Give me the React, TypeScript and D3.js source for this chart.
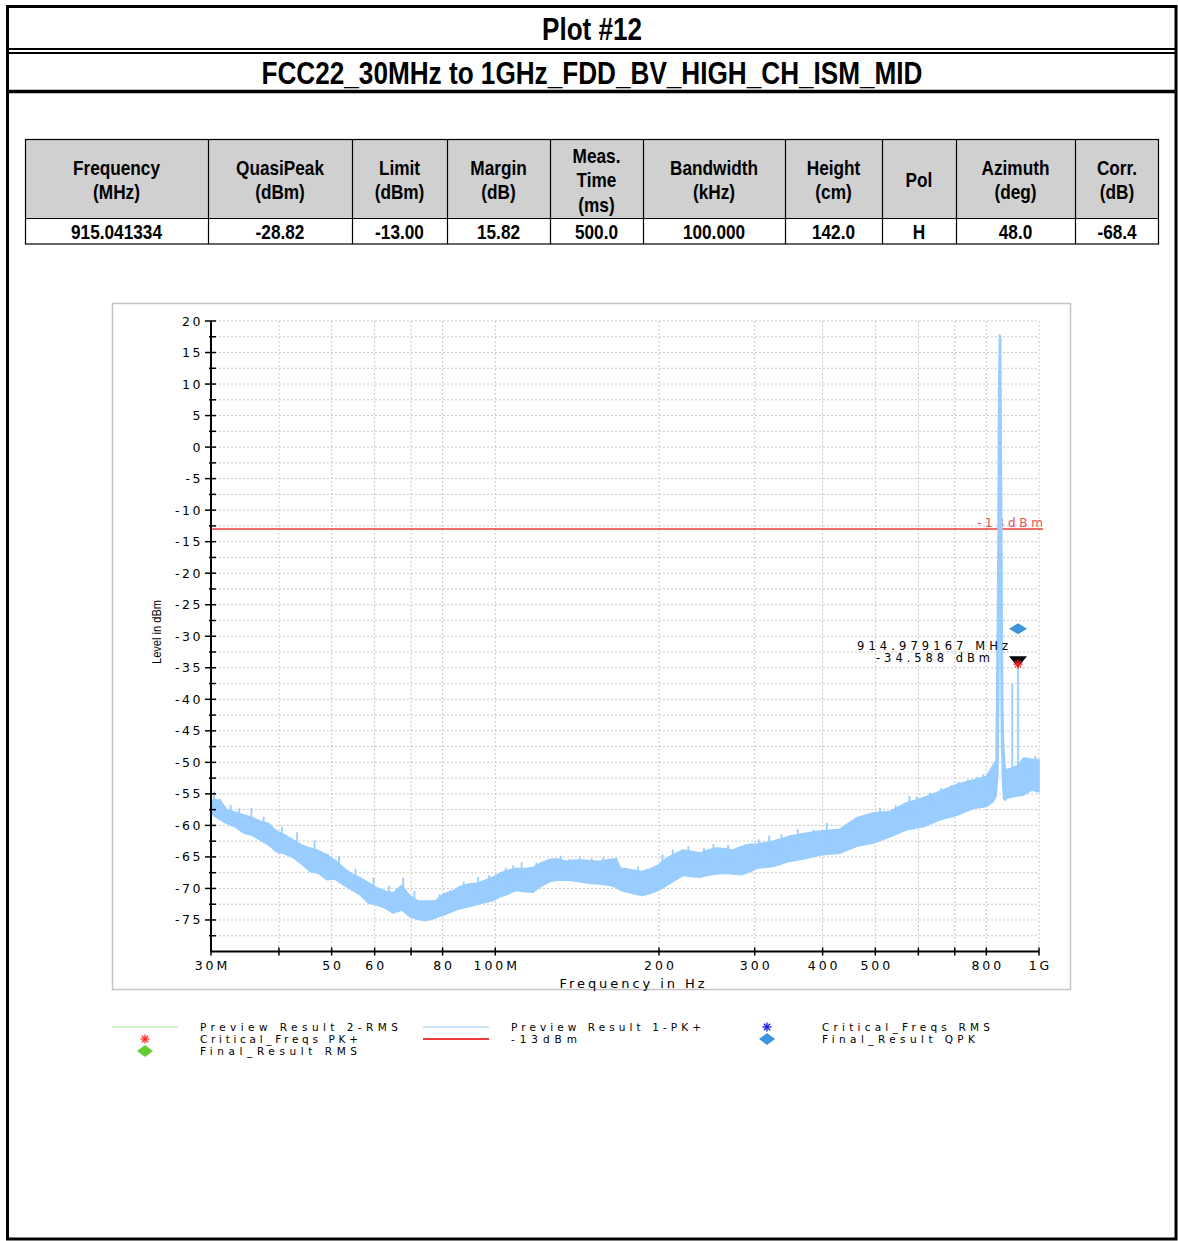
import React from "react";
import * as d3 from "d3";

// ---------- data ----------
const plotTitle = "Plot #12";
const plotSubtitle = "FCC22_30MHz to 1GHz_FDD_BV_HIGH_CH_ISM_MID";

const tableHeaders: string[][] = [
  ["Frequency", "(MHz)"],
  ["QuasiPeak", "(dBm)"],
  ["Limit", "(dBm)"],
  ["Margin", "(dB)"],
  ["Meas.", "Time", "(ms)"],
  ["Bandwidth", "(kHz)"],
  ["Height", "(cm)"],
  ["Pol"],
  ["Azimuth", "(deg)"],
  ["Corr.", "(dB)"],
];
const tableValues = ["915.041334", "-28.82", "-13.00", "15.82", "500.0", "100.000", "142.0", "H", "48.0", "-68.4"];

// Preview Result 1-PK+ trace envelope (max / min of the noisy sweep)
const traceFreqMHz = [
  30.0, 30.4, 31.2, 32.1, 33.2, 34.4, 35.6, 36.9, 38.3, 39.6, 41.0, 42.5, 44.0, 45.6, 47.3, 49.0,
  50.7, 52.5, 54.4, 56.4, 58.4, 60.5, 62.7, 64.9, 67.3, 69.7, 72.2, 74.8, 77.5, 80.3, 83.1, 86.1,
  89.2, 92.5, 95.8, 99.2, 102, 105.5, 109.5, 113, 117.3, 121, 126, 130, 135.3, 140, 145, 150,
  155.8, 162, 167, 170, 175, 179, 186, 192.6, 199.5, 206.7, 214, 221.7, 229, 237.9, 246, 255,
  264, 274, 284, 294, 302.6, 324, 348, 374, 396, 430, 462, 496, 532, 571, 613, 658, 706, 757,
  801, 824, 834, 840, 843, 846, 850, 853, 857, 861, 866, 872, 891, 915, 936, 970, 1000,
];
const traceMaxDbm = [
  -56.2, -55.8, -56.1, -57.5, -57.9, -58.3, -58.7, -59.3, -59.7, -60.9, -61.5, -62.3, -63.1, -63.6, -64.0, -64.7,
  -65.5, -66.7, -67.7, -68.3, -69.1, -69.9, -70.4, -70.7, -69.5, -71.2, -72.0, -72.0, -72.0, -70.9, -70.5, -69.7,
  -69.3, -69.2, -68.7, -68.2, -67.6, -67.1, -66.8, -66.9, -66.7, -66.0, -65.4, -65.3, -65.7, -65.5, -65.5, -65.6,
  -65.7, -65.4, -65.3, -66.8, -66.9, -67.1, -67.3, -66.9, -66.3, -65.2, -64.5, -63.9, -64.1, -64.4, -63.9, -63.6,
  -63.7, -63.9, -63.3, -63.0, -63.0, -62.5, -61.7, -61.2, -60.9, -60.6, -58.8, -58.0, -57.8, -56.4, -55.6, -54.6, -53.5, -52.8,
  -52.2, -50.4, -49.7, -20.0, 10.0, 17.8, 17.5, -5.0, -40.0, -47.7, -50.7, -51.2, -50.9, -50.5, -49.3, -49.5, -49.6,
];
const traceMinDbm = [
  -58.0, -58.5, -59.1, -59.7, -60.2, -61.2, -61.5, -62.3, -63.1, -64.2, -64.5, -65.1, -66.1, -67.3, -67.6, -68.6,
  -68.5, -69.4, -70.2, -71.0, -72.3, -72.6, -73.1, -73.9, -73.4, -74.5, -74.9, -75.1, -74.7, -74.2, -73.7, -73.2,
  -72.9, -72.6, -72.2, -71.9, -71.3, -70.9, -70.3, -70.5, -70.6, -69.7, -68.9, -68.7, -68.7, -68.8, -69.0, -69.2,
  -69.3, -69.5, -69.8, -70.3, -70.6, -70.8, -71.1, -70.8, -70.3, -69.5, -68.7, -67.9, -68.1, -68.2, -67.9, -67.7,
  -67.6, -67.7, -67.8, -67.3, -66.8, -66.5, -65.7, -65.2, -64.7, -64.4, -63.3, -62.8, -61.8, -60.7, -60.2, -59.1, -58.4, -57.3,
  -57.0, -56.2, -55.3, -52.0, -40.0, -20.0, -25.0, -45.0, -53.0, -55.8, -56.0, -55.7, -55.5, -55.3, -55.2, -54.4, -54.7,
];

// narrow spikes rising above the envelope
const spikeFreqMHz = [
  30.4, 31.2, 32.6, 33.8, 35.6, 37.5, 38.3, 40.5, 43.2, 46.5, 49.2, 51.6, 55.3, 59.7, 63.8, 67.7, 71.0, 79.0, 82.0, 82.6, 87.5,
  93.0, 97.4, 101.3, 104.5, 107.9, 111.8, 119, 127, 132, 137, 143, 150.4, 158, 167, 183, 203, 212, 226.5, 242, 251.8, 268,
  290, 305, 319, 336, 360, 385, 407, 445, 482, 510, 545, 577.5, 596, 630, 660, 690, 711, 740, 768, 790, 807, 893, 915, 949, 985,
];
const spikeDbm = [
  -54.6, -55.8, -56.8, -57.3, -57.2, -58.6, -59.7, -60.2, -61.1, -62.4, -64.5, -64.9, -66.9, -68.3, -69.6, -68.3, -70.4, -70.9, -71.2, -70.3, -68.9,
  -68.2, -67.9, -67.8, -66.7, -66.3, -65.8, -65.9, -65.3, -64.8, -65.3, -64.9, -65.2, -65.0, -65.1, -66.5, -64.6, -63.8, -63.3, -63.6, -63.0, -63.1,
  -63.2, -62.2, -61.6, -61.4, -60.6, -60.7, -59.6, -59.8, -59.0, -57.2, -56.8, -55.3, -55.4, -54.8, -54.1, -53.6, -53.1, -52.7, -52.3, -51.9, -51.8, -37.5, -34.6, -49.2, -49.0,
];

const limitDbm = -13;
const limitLabel = "-13dBm";
const finalQpkFreqMHz = [915.041334];
const finalQpkDbm = [-28.82];
const criticalPkFreqMHz = [914.979167];
const criticalPkDbm = [-34.588];
const markerLines = ["914.979167 MHz", "-34.588 dBm"];

const yTickValues = [20, 15, 10, 5, 0, -5, -10, -15, -20, -25, -30, -35, -40, -45, -50, -55, -60, -65, -70, -75];
const xTickMHz = [30, 40, 50, 60, 70, 80, 100, 200, 300, 400, 500, 600, 700, 800, 1000];
const xTickLabels = ["30M", "", "50", "60", "", "80", "100M", "200", "300", "400", "500", "", "", "800", "1G"];

const legendItems = [
  { label: "Preview Result 2-RMS", kind: "line", color: "#a6e88e" },
  { label: "Critical_Freqs PK+", kind: "star", color: "#ff2222" },
  { label: "Final_Result RMS", kind: "diamond", color: "#66cc33" },
  { label: "Preview Result 1-PK+", kind: "line", color: "#9cc6f0" },
  { label: "-13dBm", kind: "thickline", color: "#ee3b3b" },
  { label: "Critical_Freqs RMS", kind: "star", color: "#1a1ae0" },
  { label: "Final_Result QPK", kind: "diamond", color: "#3d95dc" },
];

// ---------- layout ----------
const colEdges = [25, 208, 352, 447, 550, 643, 785, 882, 956, 1075, 1159];
const NARROW = "'Liberation Sans Narrow', 'Arial Narrow', 'Liberation Sans', Arial, sans-serif";
const SPACED = "'DejaVu Sans', Verdana, sans-serif";
const TRACE = "#99ccff";

function Star({ cx, cy, r, color }: { cx: number; cy: number; r: number; color: string }) {
  const lines = [0, 45, 90, 135].map((a) => {
    const t = (a * Math.PI) / 180;
    return (
      <line key={a} x1={cx - r * Math.cos(t)} y1={cy - r * Math.sin(t)} x2={cx + r * Math.cos(t)} y2={cy + r * Math.sin(t)}
        stroke={color} strokeWidth={1.3} />
    );
  });
  return <g>{lines}</g>;
}

function Diamond({ cx, cy, rx, ry, color }: { cx: number; cy: number; rx: number; ry: number; color: string }) {
  return <path d={`M${cx - rx},${cy}L${cx},${cy - ry}L${cx + rx},${cy}L${cx},${cy + ry}Z`} fill={color} />;
}

function CText({ x, y, children, size = 21, sx = 0.82 }: { x: number; y: number; children: React.ReactNode; size?: number; sx?: number }) {
  return (
    <g transform={`translate(${x},${y}) scale(${sx},1)`}>
      <text x={0} y={0} textAnchor="middle" fontFamily={NARROW} fontWeight="bold" fontSize={size}>{children}</text>
    </g>
  );
}

export default function App() {
  const x = d3.scaleLog().domain([30, 1000]).range([211, 1039]);
  const y = d3.scaleLinear().domain([-80, 20]).range([951.5, 321]);

  const env = traceFreqMHz.map((f, i) => ({ f, hi: traceMaxDbm[i], lo: traceMinDbm[i] }));
  const area = d3
    .area<{ f: number; hi: number; lo: number }>()
    .x((d) => x(d.f))
    .y0((d) => y(d.lo))
    .y1((d) => y(d.hi));

  const bis = d3.bisector((d: { f: number }) => d.f).left;
  const bandMid = (f: number) => {
    const i = Math.max(1, Math.min(env.length - 1, bis(env, f)));
    const a = env[i - 1], b = env[i];
    const t = (Math.log(f) - Math.log(a.f)) / (Math.log(b.f) - Math.log(a.f));
    const hi = a.hi + (b.hi - a.hi) * t;
    const lo = a.lo + (b.lo - a.lo) * t;
    return (hi + lo) / 2;
  };

  const hGrid = d3.range(-77.5, 20.01, 2.5);
  const [x0, x1] = x.range();
  const yTop = y(20), yBot = y(-80);

  const colCenters = colEdges.slice(0, -1).map((e, i) => (e + colEdges[i + 1]) / 2);
  const legendWidths: Record<string, number> = {
    "Preview Result 2-RMS": 198, "Critical_Freqs PK+": 158, "Final_Result RMS": 157,
    "Preview Result 1-PK+": 190, "-13dBm": 66, "Critical_Freqs RMS": 168, "Final_Result QPK": 153,
  };

  return (
    <svg width={1178} height={1241} style={{ display: "block", position: "absolute", left: 0, top: 0 }}
      xmlns="http://www.w3.org/2000/svg">
      <rect x={0} y={0} width={1178} height={1241} fill="#fff" />
      {/* outer frame */}
      <rect x={7.5} y={6.5} width={1168.5} height={1232.5} fill="none" stroke="#000" strokeWidth={3} />
      <line x1={6} x2={1177} y1={49} y2={49} stroke="#000" strokeWidth={2} />
      <line x1={6} x2={1177} y1={53} y2={53} stroke="#000" strokeWidth={2} />
      <line x1={6} x2={1177} y1={91.5} y2={91.5} stroke="#000" strokeWidth={3.5} />
      <text x={592} y={40} textAnchor="middle" fontFamily={NARROW} fontWeight="bold" fontSize={31}
        textLength={100} lengthAdjust="spacingAndGlyphs">{plotTitle}</text>
      <text x={592} y={84} textAnchor="middle" fontFamily={NARROW} fontWeight="bold" fontSize={31}
        textLength={661} lengthAdjust="spacingAndGlyphs">{plotSubtitle}</text>

      {/* table */}
      <rect x={colEdges[0]} y={139} width={colEdges[10] - colEdges[0]} height={79} fill="#d0d0d0" />
      <rect x={colEdges[0]} y={218} width={colEdges[10] - colEdges[0]} height={26} fill="#fff" />
      <rect x={colEdges[0] + 0.5} y={139.5} width={colEdges[10] - colEdges[0] - 1} height={104.5} fill="none" stroke="#000" strokeWidth={1.2} />
      <line x1={colEdges[0]} x2={colEdges[10]} y1={218.5} y2={218.5} stroke="#000" strokeWidth={1.2} />
      {colEdges.slice(1, -1).map((e) => (
        <line key={e} x1={e + 0.5} x2={e + 0.5} y1={139} y2={244} stroke="#000" strokeWidth={1.2} />
      ))}
      {tableHeaders.map((lines, i) => {
        const lh = 24.5;
        const start = 180 - ((lines.length - 1) * lh) / 2;
        return lines.map((t, j) => (
          <CText key={i + "-" + j} x={colCenters[i]} y={start + j * lh + 7}>{t}</CText>
        ));
      })}
      {tableValues.map((t, i) => (
        <CText key={"v" + i} x={colCenters[i]} y={239}>{t}</CText>
      ))}

      {/* chart panel */}
      <rect x={112.5} y={303.5} width={958} height={686} fill="#fff" stroke="#c4c4c4" strokeWidth={1.5} />

      {/* grid */}
      {hGrid.map((v) => (
        <line key={"h" + v} x1={x0} x2={x1} y1={y(v)} y2={y(v)} stroke="#c8c8c8" strokeWidth={1} strokeDasharray="2,2" />
      ))}
      {xTickMHz.slice(1).map((f) => (
        <line key={"v" + f} x1={x(f)} x2={x(f)} y1={yTop} y2={yBot} stroke="#c8c8c8" strokeWidth={1} strokeDasharray="2,2" />
      ))}

      {/* limit */}
      <line x1={x0} x2={1043} y1={y(limitDbm)} y2={y(limitDbm)} stroke="#ee3b3b" strokeWidth={1.6} />
      <text x={1043} y={y(limitDbm) - 2} textAnchor="end" fontFamily={SPACED} fontSize={12} fill="#ee5050"
        textLength={66} lengthAdjust="spacing">{limitLabel}</text>

      {/* trace */}
      <path d={area(env) || ""} fill={TRACE} stroke={TRACE} strokeWidth={1.6} strokeLinejoin="round" />
      {spikeFreqMHz.map((f, i) => (
        <line key={"s" + i} x1={x(f)} x2={x(f)} y1={y(spikeDbm[i])} y2={y(bandMid(f))} stroke={TRACE} strokeWidth={1.8} />
      ))}

      {/* axes */}
      <line x1={x0} x2={x0} y1={yTop} y2={yBot} stroke="#000" strokeWidth={2} />
      <line x1={x0} x2={x1} y1={yBot} y2={yBot} stroke="#000" strokeWidth={2} />
      {yTickValues.map((v) => (
        <g key={"yt" + v}>
          <line x1={x0 - 6} x2={x0 + 5} y1={y(v)} y2={y(v)} stroke="#000" strokeWidth={1.5} />
          <text x={203} y={y(v) + 4.5} textAnchor="end" fontFamily={SPACED} fontSize={12.5} letterSpacing={2.5}>{String(v)}</text>
        </g>
      ))}
      {d3.range(-77.5, 20, 5).map((v) => (
        <line key={"ym" + v} x1={x0 - 2} x2={x0 + 5} y1={y(v)} y2={y(v)} stroke="#000" strokeWidth={1.5} />
      ))}
      {xTickMHz.map((f, i) => (
        <g key={"xt" + f}>
          <line x1={x(f)} x2={x(f)} y1={yBot - 4} y2={yBot + 4} stroke="#000" strokeWidth={1.5} />
          {xTickLabels[i] && (
            <text x={x(f) + 1.5} y={970} textAnchor="middle" fontFamily={SPACED} fontSize={12.5} letterSpacing={3}>{xTickLabels[i]}</text>
          )}
        </g>
      ))}
      <text x={632} y={988} textAnchor="middle" fontFamily={SPACED} fontSize={13} textLength={145} lengthAdjust="spacing">Frequency in Hz</text>
      <text transform="translate(161,632) rotate(-90)" textAnchor="middle" fontFamily={NARROW} fontSize={13}
        textLength={64} lengthAdjust="spacingAndGlyphs">Level in dBm</text>

      {/* markers */}
      {finalQpkFreqMHz.map((f, i) => (
        <Diamond key={"q" + i} cx={x(f)} cy={y(finalQpkDbm[i])} rx={9} ry={5.5} color="#3d95dc" />
      ))}
      {criticalPkFreqMHz.map((f, i) => {
        const cx = x(f), cy = y(criticalPkDbm[i]);
        return (
          <g key={"c" + i}>
            <path d={`M${cx - 9},${cy - 9}L${cx + 9},${cy - 9}L${cx},${cy + 2}Z`} fill="#000" />
            <Star cx={cx} cy={cy - 1} r={4.5} color="#ff2222" />
            <text x={1008} y={649.5} textAnchor="end" fontFamily={SPACED} fontSize={11.5} textLength={151} lengthAdjust="spacing">{markerLines[0]}</text>
            <text x={990} y={661.5} textAnchor="end" fontFamily={SPACED} fontSize={11.5} textLength={114} lengthAdjust="spacing">{markerLines[1]}</text>
          </g>
        );
      })}

      {/* legend */}
      {legendItems.map((it, i) => {
        const col = i < 3 ? 0 : i < 5 ? 1 : 2;
        const row = i < 3 ? i : i < 5 ? i - 3 : i - 5;
        const symX = [145, 456, 767][col];
        const textX = [200, 511, 822][col];
        const cy = 1027 + row * 12;
        let sym: React.ReactNode = null;
        if (it.kind === "line") sym = <line x1={symX - 33} x2={symX + 33} y1={cy} y2={cy} stroke={it.color} strokeWidth={1.2} />;
        else if (it.kind === "thickline") sym = <line x1={symX - 33} x2={symX + 33} y1={cy} y2={cy} stroke={it.color} strokeWidth={2} />;
        else if (it.kind === "star") sym = <Star cx={symX} cy={cy} r={4.5} color={it.color} />;
        else sym = <Diamond cx={symX} cy={cy} rx={8} ry={6} color={it.color} />;
        return (
          <g key={"l" + i}>
            {sym}
            <text x={textX} y={cy + 4} fontFamily={SPACED} fontSize={10.5} textLength={legendWidths[it.label]} lengthAdjust="spacing">{it.label}</text>
          </g>
        );
      })}
    </svg>
  );
}
